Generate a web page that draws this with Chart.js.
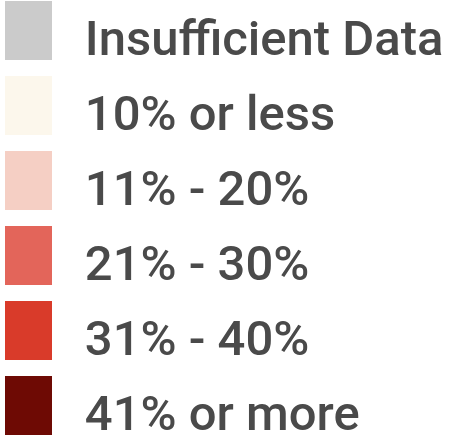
<!DOCTYPE html>
<html>
<head>
<meta charset="utf-8">
<script src="https://cdn.jsdelivr.net/npm/chart.js@4"></script>
<style>
  html, body { margin: 0; padding: 0; background: #fff; overflow: hidden; }
  #wrap { position: relative; width: 449px; height: 440px; overflow: hidden; }
  /* legend padding also pushes the first row in, so pull the canvas back;
     the canvas is extra tall because a top legend may only take half the height */
  #chart { position: absolute; left: -11px; top: -15px; }
</style>
</head>
<body>
<div id="wrap"><canvas id="chart" width="460" height="1000"></canvas></div>
<script>
// legend categories and their fill colours
const categories = ['Insufficient Data', '10% or less', '11% - 20%', '21% - 30%', '31% - 40%', '41% or more'];
const colors = ['#cbcbcb', '#fcf7ec', '#f5cfc4', '#e3655a', '#d93b2a', '#6e0a04'];

const ctx = document.getElementById('chart');

new Chart(ctx, {
    type: 'bar',
    data: {
        labels: [],
        datasets: categories.map((name, i) => ({
            label: name,
            data: [],
            backgroundColor: colors[i],
            borderWidth: 0
        }))
    },
    options: {
        responsive: false,
        animation: false,
        events: [],
        scales: {
            x: { display: false },
            y: { display: false }
        },
        plugins: {
            tooltip: { enabled: false },
            legend: {
                position: 'top',
                align: 'start',
                labels: {
                    boxWidth: 47,
                    boxHeight: 59,
                    padding: 16,
                    color: '#4a4a4a',
                    font: { family: 'Roboto', size: 49, weight: '500', lineHeight: '12px' },
                    // blank first line drops the text a little below the box centre,
                    // the six-per-em space widens the gap after the box
                    generateLabels: (chart) => chart.data.datasets.map((ds, i) => ({
                        text: ['', '\u2006' + ds.label],
                        fillStyle: ds.backgroundColor,
                        strokeStyle: ds.backgroundColor,
                        fontColor: '#4a4a4a',
                        lineWidth: 0,
                        hidden: false,
                        datasetIndex: i
                    }))
                }
            }
        }
    }
});
</script>
</body>
</html>
